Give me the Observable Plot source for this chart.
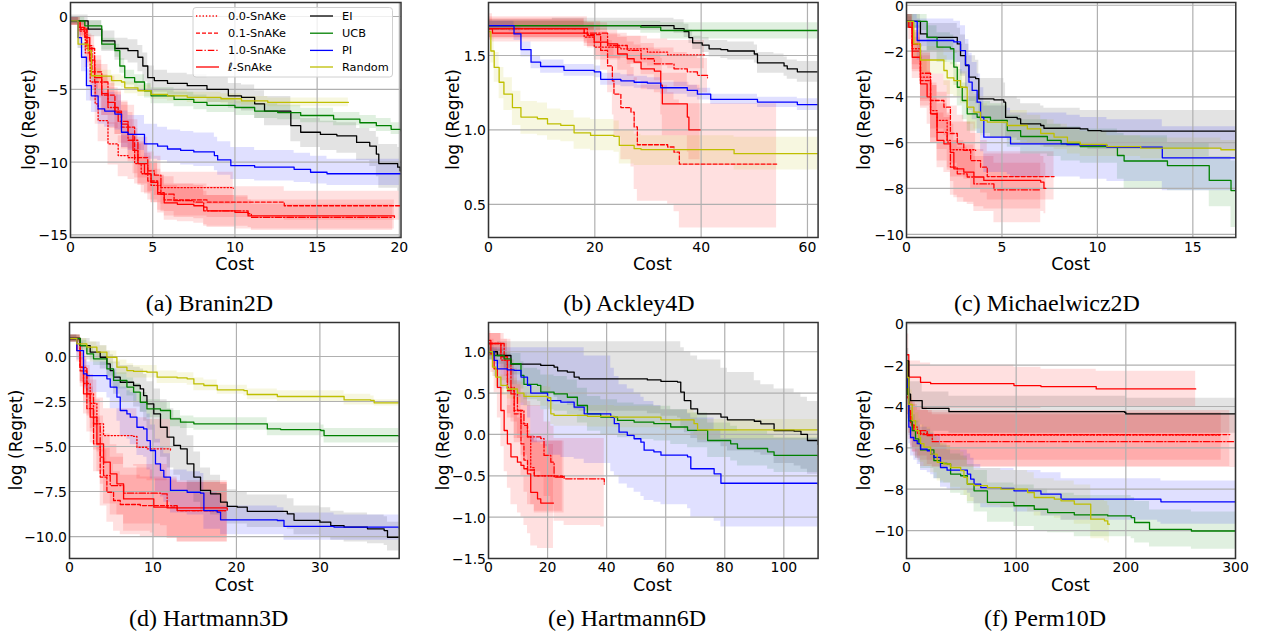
<!DOCTYPE html>
<html>
<head>
<meta charset="utf-8">
<script src="https://cdn.jsdelivr.net/npm/d3@7"></script>
<script src="https://cdn.jsdelivr.net/npm/@observablehq/plot@0.6"></script>
<style>
  html,body{margin:0;padding:0;background:#fff;}
  #root{position:relative;width:1262px;height:636px;overflow:hidden;background:#fff;font-family:"DejaVu Sans",sans-serif;color:#000;}
</style>
</head>
<body>
<div id="root"></div>
<script>
// ---------- data: each row = [cost, mean log regret, lower band, upper band] ----------
// (a) Branin2D
const braninS00 = [[0,-0.3,-0.6,0],[0.5,-1.0,-1.6,-0.5],[0.9,-2.5,-3.5,-1.6],[1.2,-4.5,-5.8,-3.3],[1.5,-6.0,-7.4,-4.7],[1.68,-7.15,-8.6,-5.8],[2.28,-8.75,-10.2,-7.3],[2.9,-9.55,-11.0,-8.2],[3.5,-9.7,-11.2,-8.3],[3.9,-10.1,-11.5,-8.8],[4.3,-10.8,-12.1,-9.6],[4.9,-11.6,-12.8,-10.5],[5.5,-11.75,-12.9,-10.7],[9.9,-11.8,-12.9,-10.8]];
const braninS01 = [[0,-0.3,-0.6,0],[0.6,-0.9,-1.5,-0.4],[1.0,-2.0,-3.0,-1.2],[1.3,-3.8,-5.0,-2.7],[1.9,-5.4,-6.8,-4.1],[2.7,-6.6,-8.1,-5.2],[3.1,-7.6,-9.1,-6.1],[3.9,-9.7,-11.1,-8.3],[4.7,-11.3,-12.6,-10.0],[5.3,-12.1,-13.3,-10.9],[5.7,-12.6,-13.7,-11.5],[8.3,-12.75,-13.8,-11.7],[13,-13.0,-14.0,-12.0],[20.1,-13.0,-14.0,-12.0]];
const braninS10 = [[0,-0.3,-0.6,0],[0.6,-0.8,-1.4,-0.3],[1.0,-2.2,-3.2,-1.3],[1.47,-4.5,-5.8,-3.3],[2.28,-6.25,-7.7,-4.9],[2.9,-7.2,-8.7,-5.8],[3.5,-8.5,-10.0,-7.1],[4.1,-10.1,-11.5,-8.7],[4.7,-10.6,-12.0,-9.3],[5.1,-10.9,-12.3,-9.6],[5.5,-12.2,-13.4,-11.0],[6.3,-12.65,-13.8,-11.5],[7.5,-12.75,-13.9,-11.6],[8.1,-13.35,-14.4,-12.3],[10.8,-13.55,-14.5,-12.6],[11,-13.8,-14.7,-12.9],[19.6,-13.8,-14.7,-12.9]];
const braninSL = [[0,-0.3,-0.6,0],[0.5,-0.75,-1.3,-0.3],[0.87,-1.45,-2.3,-0.8],[1.17,-3.0,-4.2,-2.0],[1.47,-4.2,-5.6,-3.0],[1.9,-5.3,-6.8,-4.0],[2.28,-5.9,-7.4,-4.6],[2.7,-6.5,-8.1,-5.1],[3.1,-7.4,-9.0,-5.9],[3.5,-8.1,-9.8,-6.6],[3.8,-9.2,-10.8,-7.7],[4.1,-10.1,-11.6,-8.6],[4.5,-10.8,-12.2,-9.4],[4.9,-11.4,-12.8,-10.0],[5.3,-12.2,-13.5,-10.9],[5.7,-12.8,-14.0,-11.6],[6.5,-12.9,-14.1,-11.8],[7.5,-13.0,-14.2,-11.9],[8.1,-13.1,-14.3,-12.0],[8.3,-13.35,-14.5,-12.3],[10,-13.45,-14.6,-12.4],[10.8,-13.7,-14.6,-12.6],[19.7,-13.8,-14.6,-12.6]];
const braninEI = [[0,-0.3,-0.6,0.1],[1.07,-0.87,-1.4,-0.3],[1.9,-1.67,-2.4,-1.0],[2.7,-2.2,-3.0,-1.5],[3.5,-2.35,-3.2,-1.6],[4.1,-2.8,-3.8,-2.0],[4.4,-3.4,-4.5,-2.5],[4.7,-4.2,-5.0,-3.4],[5.1,-4.4,-5.2,-3.7],[5.9,-4.6,-5.4,-3.9],[7.1,-4.75,-5.6,-4.0],[8.3,-5.0,-5.9,-4.2],[9.6,-5.45,-6.3,-4.6],[10.4,-5.55,-6.5,-4.7],[11.2,-6.0,-7.0,-5.1],[11.8,-6.5,-7.5,-5.5],[13.4,-7.5,-8.6,-6.6],[14.0,-7.95,-9.0,-7.0],[15.2,-8.1,-9.2,-7.2],[16.2,-8.2,-9.4,-7.3],[17.4,-8.65,-9.9,-7.7],[18.2,-8.9,-10.3,-7.9],[18.6,-9.45,-11.0,-8.3],[18.75,-10.1,-11.8,-8.8],[19.9,-10.35,-12.0,-9.0],[20.05,-10.6,-12.2,-9.3],[20.1,-10.6,-12.2,-9.3]];
const braninUCB = [[0,-0.3,-0.5,0],[0.87,-0.64,-0.9,-0.3],[1.9,-1.9,-2.3,-1.5],[2.7,-2.35,-2.8,-1.9],[3.0,-3.4,-3.9,-2.9],[3.3,-4.2,-4.7,-3.7],[3.9,-4.5,-5.0,-4.0],[4.5,-5.1,-5.6,-4.6],[4.9,-5.45,-6.0,-4.9],[6.3,-5.7,-6.2,-5.2],[7.5,-5.9,-6.4,-5.4],[8.3,-6.1,-6.6,-5.6],[10,-6.25,-6.8,-5.8],[11.2,-6.5,-7.0,-6.0],[12.6,-6.6,-7.1,-6.1],[14,-6.8,-7.3,-6.3],[16,-7.05,-7.5,-6.6],[17.6,-7.3,-7.7,-6.8],[18.6,-7.5,-7.9,-7.0],[19.5,-7.75,-8.1,-7.3],[20.1,-7.85,-8.2,-7.4]];
const braninPI = [[0,-0.3,-0.5,0],[0.46,-1.45,-2.2,-0.8],[0.67,-2.8,-3.8,-1.8],[0.97,-4.75,-5.8,-3.6],[1.27,-5.45,-6.6,-4.2],[1.68,-6.35,-7.4,-5.0],[2.08,-6.5,-7.6,-5.2],[2.7,-6.7,-7.8,-5.4],[3.1,-7.95,-9.0,-6.5],[3.5,-8.1,-9.2,-6.8],[4.5,-8.75,-9.8,-7.4],[5.3,-8.9,-9.9,-7.6],[5.9,-9.1,-10.1,-7.8],[6.7,-9.2,-10.2,-7.9],[7.5,-9.3,-10.3,-8.0],[8.75,-9.55,-10.6,-8.3],[8.95,-9.85,-10.9,-8.6],[9.75,-10.25,-11.2,-9.0],[11.2,-10.35,-11.3,-9.2],[13.6,-10.5,-11.4,-9.4],[14.6,-10.7,-11.5,-9.6],[15.6,-10.8,-11.6,-9.8],[20.1,-10.8,-11.6,-9.8]];
const braninRND = [[0,-0.3,-0.5,-0.1],[0.46,-1.9,-2.2,-1.6],[1.07,-2.35,-2.7,-2.0],[1.27,-4.07,-4.5,-3.6],[1.9,-4.1,-4.5,-3.7],[2.5,-4.4,-4.8,-4.0],[3.1,-4.5,-4.9,-4.1],[3.3,-4.9,-5.3,-4.5],[4.1,-5.1,-5.5,-4.7],[4.9,-5.35,-5.7,-5.0],[5.9,-5.45,-5.8,-5.1],[7.1,-5.55,-5.9,-5.2],[9.15,-5.65,-6.0,-5.3],[10.4,-5.8,-6.1,-5.5],[12,-5.9,-6.2,-5.6],[16.9,-5.9,-6.2,-5.6]];

// (b) Ackley4D
const ackleyS00 = [[0,1.68,1.62,1.74],[18,1.623,1.56,1.69],[19.9,1.556,1.47,1.64],[24.9,1.545,1.45,1.63],[29.9,1.522,1.43,1.61],[33.7,1.504,1.41,1.60],[40.6,1.504,1.40,1.60]];
const ackleyS01 = [[0,1.68,1.61,1.76],[17.4,1.68,1.61,1.76],[18.6,1.64,1.55,1.73],[21.1,1.534,1.40,1.66],[22.4,1.43,1.25,1.60],[23.3,1.33,1.10,1.55],[23.6,1.24,0.95,1.50],[24.9,1.15,0.80,1.45],[26.8,1.12,0.75,1.42],[27.4,1.02,0.60,1.35],[28.0,0.90,0.52,1.30],[33.7,0.885,0.50,1.25],[34.9,0.85,0.45,1.20],[35.9,0.77,0.34,1.175],[54.2,0.77,0.34,1.175]];
const ackleyS10 = [[0,1.68,1.62,1.75],[18,1.65,1.58,1.72],[22.4,1.567,1.48,1.65],[26.1,1.534,1.44,1.63],[28.7,1.478,1.37,1.58],[31.2,1.444,1.33,1.55],[34.9,1.41,1.29,1.52],[37.4,1.39,1.27,1.50],[39.3,1.366,1.25,1.48],[41.2,1.35,1.24,1.47]];
const ackleySL = [[0,1.68,1.60,1.78],[0.75,1.65,1.59,1.73],[17.4,1.65,1.59,1.73],[18.6,1.634,1.56,1.72],[19.9,1.59,1.50,1.68],[22.4,1.578,1.48,1.67],[24.3,1.51,1.40,1.62],[26.1,1.478,1.36,1.59],[27.4,1.455,1.33,1.57],[28.7,1.41,1.27,1.55],[31.2,1.395,1.25,1.54],[32.4,1.30,1.10,1.48],[32.7,1.175,0.96,1.38],[36.8,1.175,0.96,1.38],[37.4,1.086,0.85,1.32],[37.7,1.0,0.80,1.30],[39.8,1.0,0.80,1.30]];
const ackleyEI = [[0,1.70,1.67,1.74],[12,1.70,1.67,1.75],[34.9,1.68,1.65,1.74],[36.8,1.66,1.62,1.71],[37.7,1.62,1.58,1.67],[38.4,1.585,1.54,1.63],[40.2,1.57,1.52,1.62],[41.5,1.545,1.49,1.60],[43.7,1.54,1.48,1.60],[45,1.53,1.47,1.59],[50,1.51,1.45,1.57],[50.6,1.45,1.38,1.52],[53.7,1.45,1.38,1.51],[55.6,1.43,1.36,1.49],[56.2,1.41,1.34,1.47],[58.1,1.39,1.32,1.46],[62,1.39,1.32,1.46]];
const ackleyUCB = [[0,1.70,1.67,1.73],[28.65,1.69,1.65,1.73],[32.4,1.668,1.61,1.72],[62,1.665,1.605,1.725]];
const ackleyPI = [[0,1.70,1.67,1.73],[3.9,1.70,1.66,1.73],[4.8,1.645,1.60,1.69],[6.1,1.54,1.49,1.59],[8.0,1.455,1.41,1.50],[9.8,1.426,1.38,1.47],[14.2,1.40,1.36,1.44],[19.9,1.39,1.35,1.43],[21.1,1.34,1.30,1.38],[24.9,1.33,1.29,1.37],[27.4,1.32,1.28,1.36],[29.9,1.314,1.27,1.35],[32.4,1.283,1.24,1.32],[37.4,1.265,1.22,1.30],[39.3,1.24,1.20,1.28],[41.8,1.205,1.17,1.24],[50.6,1.187,1.15,1.22],[58.1,1.17,1.13,1.21],[62,1.17,1.13,1.21]];
const ackleyRND = [[0,1.66,1.62,1.70],[0.44,1.53,1.45,1.62],[1.07,1.42,1.32,1.52],[2.0,1.32,1.21,1.42],[2.9,1.24,1.13,1.35],[4.5,1.15,1.03,1.26],[6.1,1.086,0.97,1.19],[9.2,1.075,0.96,1.18],[11.1,1.04,0.93,1.14],[13.6,1.03,0.92,1.13],[16.1,0.98,0.87,1.08],[19.2,0.963,0.86,1.07],[23.6,0.956,0.85,1.06],[24.6,0.896,0.77,1.00],[27.4,0.874,0.76,0.97],[28.7,0.867,0.76,0.96],[46.2,0.84,0.73,0.95],[62,0.84,0.73,0.95]];

// (c) Michaelwicz2D
const michS00 = [[0,-0.7,-1.0,-0.4],[0.3,-1.9,-2.8,-1.1],[0.73,-3.14,-4.2,-2.1],[1.26,-4.6,-5.8,-3.4],[1.6,-5.03,-6.3,-3.8],[2.13,-5.9,-7.1,-4.7],[2.3,-6.31,-7.5,-5.1],[3.62,-6.34,-7.6,-5.1]];
const michS01 = [[0,-0.7,-1.0,-0.4],[0.3,-1.7,-2.6,-0.9],[0.73,-3.29,-4.4,-2.2],[1.26,-4.16,-5.4,-3.0],[1.96,-4.45,-5.7,-3.3],[2.3,-5.6,-6.9,-4.4],[2.66,-6.05,-7.3,-4.8],[3.0,-6.34,-7.6,-5.1],[3.36,-6.78,-8.0,-5.6],[3.88,-7.07,-8.2,-5.9],[4.23,-7.48,-8.5,-6.4],[7.73,-7.48,-8.5,-6.4]];
const michS10 = [[0,-0.7,-1.0,-0.4],[0.3,-2.0,-2.9,-1.2],[0.73,-2.97,-4.1,-2.0],[1.26,-4.74,-6.0,-3.5],[1.6,-5.55,-6.8,-4.3],[2.13,-5.98,-7.2,-4.8],[2.3,-7.07,-8.3,-5.9],[2.66,-7.36,-8.6,-6.2],[3.18,-7.5,-8.7,-6.3],[3.53,-7.8,-9.0,-6.6],[4.58,-8.06,-9.5,-6.9],[7.03,-8.06,-9.5,-6.9]];
const michSL = [[0,-0.7,-1.0,-0.4],[0.12,-0.96,-1.5,-0.5],[0.3,-2.27,-3.2,-1.4],[0.73,-3.43,-4.5,-2.4],[1.08,-4.0,-5.2,-2.9],[1.26,-4.74,-6.0,-3.5],[1.6,-5.9,-7.1,-4.7],[1.96,-6.05,-7.3,-4.9],[2.3,-6.42,-7.7,-5.2],[2.48,-7.14,-8.4,-5.9],[3.0,-7.29,-8.6,-6.1],[3.53,-7.5,-8.8,-6.3],[4.05,-7.65,-8.9,-6.5],[7.03,-7.72,-9.0,-6.6],[7.2,-8.0,-9.1,-6.9],[7.3,-8.0,-9.1,-6.9]];
const michEI = [[0,-0.7,-1.0,-0.4],[0.56,-0.7,-1.1,-0.4],[0.73,-1.25,-1.8,-0.7],[1.08,-1.4,-2.0,-0.8],[2.48,-1.4,-2.1,-0.8],[2.66,-1.69,-2.5,-1.0],[2.83,-2.2,-3.1,-1.3],[3.09,-2.63,-3.6,-1.7],[3.27,-3.14,-4.2,-2.2],[3.62,-3.2,-4.3,-2.4],[3.79,-4.09,-5.0,-3.2],[4.58,-4.13,-5.1,-3.2],[5.1,-4.23,-5.2,-3.4],[5.19,-4.9,-5.8,-4.0],[5.8,-4.96,-5.9,-4.1],[5.98,-5.18,-6.1,-4.3],[7.03,-5.25,-6.1,-4.4],[7.2,-5.37,-6.2,-4.5],[9.1,-5.4,-6.2,-4.6],[9.5,-5.47,-6.3,-4.6],[10.2,-5.5,-6.3,-4.6],[17.25,-5.51,-6.35,-4.65]];
const michUCB = [[0,-0.7,-1.0,-0.4],[0.73,-0.7,-1.1,-0.4],[1.08,-1.4,-2.0,-0.9],[1.6,-1.83,-2.5,-1.2],[2.3,-1.9,-2.6,-1.3],[2.48,-2.7,-3.5,-2.0],[2.66,-3.58,-4.4,-2.8],[2.92,-4.16,-5.0,-3.4],[3.18,-4.74,-5.5,-4.0],[3.7,-4.89,-5.6,-4.2],[4.4,-5.03,-5.8,-4.3],[5.28,-5.47,-6.2,-4.8],[5.98,-5.73,-6.5,-5.0],[7.38,-5.9,-6.6,-5.2],[8.1,-6.05,-6.8,-5.3],[9.1,-6.17,-6.9,-5.4],[11.05,-6.56,-7.6,-5.6],[11.4,-6.8,-8.0,-5.7],[13.67,-7.0,-8.1,-6.0],[15.86,-7.65,-8.8,-6.6],[17.0,-8.09,-9.7,-6.8],[17.25,-8.09,-9.7,-6.8]];
const michPI = [[0,-0.7,-1.0,-0.4],[0.56,-1.54,-2.4,-0.6],[2.48,-1.6,-2.5,-0.7],[2.83,-1.98,-3.0,-0.9],[3.09,-2.6,-3.7,-1.5],[3.27,-3.36,-4.6,-2.1],[3.44,-3.72,-5.0,-2.5],[3.7,-4.23,-5.6,-3.0],[3.88,-4.9,-6.4,-3.6],[4.05,-5.76,-7.3,-4.4],[5.28,-5.76,-7.4,-4.5],[5.45,-6.05,-7.5,-4.7],[8.4,-6.08,-7.5,-4.8],[9.1,-6.12,-7.6,-4.9],[10.5,-6.2,-7.7,-5.0],[13.3,-6.2,-7.7,-5.0],[13.4,-6.66,-8.1,-5.3],[17.25,-6.66,-8.1,-5.3]];
const michRND = [[0,-0.7,-1.0,-0.4],[0.38,-1.69,-2.3,-1.1],[0.73,-2.39,-3.0,-1.8],[1.96,-2.85,-3.5,-2.2],[2.13,-3.17,-3.9,-2.5],[2.48,-3.29,-4.0,-2.6],[2.83,-3.58,-4.3,-2.9],[3.18,-4.45,-5.2,-3.7],[3.53,-4.67,-5.4,-3.9],[3.88,-5.03,-5.7,-4.3],[4.23,-5.1,-5.8,-4.4],[5.28,-5.25,-5.9,-4.6],[6.33,-5.4,-6.0,-4.8],[7.03,-5.6,-6.2,-5.0],[7.73,-5.76,-6.3,-5.2],[8.43,-5.98,-6.5,-5.4],[9.1,-6.08,-6.6,-5.5],[10.5,-6.17,-6.6,-5.7],[12.27,-6.24,-6.7,-5.8],[16.47,-6.31,-6.7,-5.9],[17.25,-6.31,-6.7,-5.9]];

// (d) Hartmann3D
const h3S00 = [[0,1.0,0.8,1.2],[1.28,-0.6,-1.4,0.2],[1.68,-1.5,-2.6,-0.5],[2.48,-2.6,-4.0,-1.3],[3.28,-3.74,-5.3,-2.3],[4.08,-4.39,-6.0,-2.9],[7.68,-4.44,-6.1,-2.9],[8.08,-5.04,-6.8,-3.4],[9.28,-5.13,-6.9,-3.5],[12.1,-5.22,-7.0,-3.6]];
const h3S01 = [[0,1.0,0.8,1.2],[1.28,-0.8,-1.7,0.0],[2.08,-2.9,-4.2,-1.7],[2.88,-4.85,-6.4,-3.4],[3.68,-6.7,-8.3,-5.2],[4.48,-7.54,-9.2,-6.0],[5.28,-8.0,-9.7,-6.4],[6.08,-8.22,-9.9,-6.6],[8.48,-8.28,-10.0,-6.7],[11.7,-8.37,-10.1,-6.8],[12.9,-8.56,-10.3,-7.0],[18.9,-8.56,-10.3,-7.0]];
const h3S10 = [[0,1.0,0.8,1.2],[1.28,-0.6,-1.5,0.2],[2.08,-2.07,-3.3,-1.0],[2.88,-3.74,-5.2,-2.4],[3.68,-5.59,-7.1,-4.2],[4.08,-6.61,-8.2,-5.1],[4.88,-7.17,-8.8,-5.6],[6.48,-7.59,-9.3,-6.0],[10.9,-7.63,-9.4,-6.0],[11.7,-8.28,-10.0,-6.7],[12.9,-8.56,-10.3,-7.0],[18.9,-8.5,-10.3,-7.0]];
const h3SL = [[0,1.0,0.8,1.2],[0.88,0.33,-0.3,0.9],[1.28,-0.59,-1.4,0.2],[1.68,-2.07,-3.2,-1.0],[2.48,-3.37,-4.8,-2.0],[3.28,-4.85,-6.4,-3.3],[4.08,-5.87,-7.5,-4.3],[4.88,-6.52,-8.2,-4.9],[5.68,-7.07,-8.8,-5.4],[6.48,-7.91,-9.7,-6.2],[9.68,-7.91,-9.8,-6.3],[10.1,-8.37,-10.0,-6.8],[11.7,-8.41,-10.1,-6.9],[18.9,-8.46,-10.1,-7.0]];
const h3EI = [[0,1.0,0.8,1.2],[1.28,0.61,0.2,1.0],[2.48,0.24,-0.3,0.8],[3.68,-0.04,-0.7,0.6],[4.48,-0.41,-1.2,0.3],[4.88,-0.78,-1.7,0.1],[5.28,-1.15,-2.1,-0.3],[6.08,-1.43,-2.5,-0.5],[7.68,-1.61,-2.8,-0.6],[8.48,-1.8,-3.1,-0.7],[8.88,-2.17,-3.6,-1.0],[9.28,-2.63,-4.1,-1.4],[10.1,-3.19,-4.8,-1.8],[10.9,-3.93,-5.6,-2.4],[11.7,-4.48,-6.2,-2.9],[12.5,-4.94,-6.6,-3.4],[13.3,-5.13,-6.9,-3.6],[14.1,-5.96,-7.6,-4.4],[14.9,-6.7,-8.1,-5.3],[15.7,-7.44,-8.6,-6.2],[16.9,-7.63,-8.8,-6.6],[18.1,-8.09,-9.1,-7.1],[18.9,-8.33,-9.3,-7.4],[20.1,-8.37,-9.3,-7.5],[21.3,-8.6,-9.5,-7.7],[26.1,-8.74,-9.6,-7.9],[26.9,-9.1,-9.9,-8.3],[30.0,-9.2,-10.0,-8.4],[31.3,-9.4,-10.2,-8.6],[32.9,-9.48,-10.3,-8.7],[35.7,-9.57,-10.4,-8.8],[37.7,-9.67,-10.5,-8.9],[38.1,-10.04,-10.8,-9.2],[39.5,-10.04,-10.8,-9.2]];
const h3UCB = [[0,1.0,0.8,1.2],[1.28,0.61,0.3,0.9],[2.08,0.15,-0.2,0.5],[2.88,-0.13,-0.5,0.2],[4.48,-0.69,-1.1,-0.3],[5.28,-1.33,-1.8,-0.9],[6.88,-1.7,-2.2,-1.2],[7.68,-1.98,-2.5,-1.5],[8.48,-2.54,-3.1,-2.0],[9.28,-2.91,-3.4,-2.4],[10.9,-3.0,-3.5,-2.5],[12.1,-3.46,-3.9,-3.0],[13.3,-3.65,-4.0,-3.3],[14.9,-3.74,-4.1,-3.4],[23.3,-3.74,-4.1,-3.4],[23.7,-4.02,-4.4,-3.7],[25.3,-4.06,-4.4,-3.7],[30.1,-4.11,-4.5,-3.8],[30.5,-4.39,-4.8,-4.0],[39.5,-4.44,-4.8,-4.1]];
const h3PI = [[0,1.0,0.8,1.2],[0.88,0.33,-0.2,0.8],[1.68,-0.96,-1.8,-0.2],[2.08,-1.06,-2.0,-0.3],[4.48,-1.24,-2.3,-0.4],[4.88,-1.7,-2.9,-0.7],[5.68,-2.26,-3.6,-1.1],[6.08,-3.0,-4.4,-1.7],[6.88,-3.19,-4.6,-1.9],[7.28,-3.37,-4.9,-2.0],[8.08,-3.93,-5.5,-2.5],[8.88,-4.02,-5.6,-2.6],[9.28,-4.67,-6.3,-3.2],[9.68,-5.22,-6.8,-3.8],[10.3,-5.96,-7.5,-4.6],[10.9,-6.33,-7.8,-5.0],[11.3,-6.7,-8.1,-5.4],[12.1,-7.44,-8.7,-6.3],[14.1,-7.54,-8.8,-6.4],[15.7,-7.59,-8.8,-6.5],[16.1,-8.56,-9.6,-7.5],[17.7,-8.65,-9.6,-7.7],[18.1,-9.07,-9.9,-8.3],[24.9,-9.11,-9.9,-8.4],[25.7,-9.44,-10.2,-8.7],[31.7,-9.48,-10.2,-8.8],[39.5,-9.57,-10.3,-8.9]];
const h3RND = [[0,1.0,0.8,1.2],[0.88,0.7,0.4,1.0],[2.08,0.52,0.2,0.8],[3.28,0.24,-0.1,0.6],[4.48,-0.04,-0.4,0.3],[5.68,-0.59,-1.0,-0.2],[6.88,-0.78,-1.2,-0.4],[7.68,-0.83,-1.2,-0.5],[9.28,-0.87,-1.2,-0.5],[10.5,-1.15,-1.5,-0.8],[12.9,-1.19,-1.5,-0.9],[14.1,-1.24,-1.6,-0.9],[14.9,-1.52,-1.9,-1.2],[16.1,-1.61,-1.9,-1.3],[17.7,-1.85,-2.1,-1.6],[20.9,-1.89,-2.2,-1.6],[21.3,-2.11,-2.4,-1.8],[24.9,-2.22,-2.5,-1.9],[32.5,-2.22,-2.5,-1.9],[32.9,-2.41,-2.7,-2.1],[36.1,-2.44,-2.7,-2.2],[36.5,-2.57,-2.75,-2.4],[39.5,-2.57,-2.75,-2.4]];

// (e) Hartmann6D
const h6S00 = [[0,1.1,0.95,1.22],[4.2,0.9,0.65,1.1],[6.4,0.57,0.25,0.9],[8.7,0.29,-0.05,0.65],[11,0.13,-0.25,0.5],[13.2,-0.03,-0.45,0.4],[14.3,-0.4,-0.85,0.0],[15.5,-0.5,-0.95,-0.08],[22.2,-0.51,-0.95,-0.08],[25.6,-0.5,-0.95,-0.08]];
const h6S01 = [[0,1.1,0.95,1.22],[4.2,0.94,0.7,1.15],[6.4,0.53,0.2,0.85],[8.7,0.25,-0.1,0.6],[11,-0.113,-0.5,0.3],[12,-0.31,-0.7,0.1],[13.2,-0.43,-0.85,0.0],[15.5,-0.5,-0.93,-0.08],[25,-0.52,-0.93,-0.08]];
const h6S10 = [[0,1.1,0.95,1.22],[5.3,0.9,0.6,1.15],[7.6,0.49,0.15,0.8],[9.8,0.29,-0.05,0.6],[12,0.11,-0.3,0.45],[13.2,-0.03,-0.45,0.35],[17.7,-0.05,-0.5,0.3],[18.8,-0.254,-0.75,0.15],[21.1,-0.335,-0.85,0.1],[22.2,-0.516,-1.05,-0.05],[25.6,-0.536,-1.1,-0.05],[38,-0.536,-1.12,-0.05],[39.2,-0.6,-1.12,-0.05]];
const h6SL = [[0,1.137,0.95,1.25],[0.8,0.976,0.75,1.15],[1.9,0.794,0.5,1.05],[3,0.57,0.2,0.9],[4.2,0.29,-0.15,0.7],[5.3,0.048,-0.45,0.5],[6.4,-0.113,-0.65,0.35],[7.6,-0.27,-0.85,0.25],[9.8,-0.335,-0.95,0.2],[11,-0.375,-1.0,0.15],[12,-0.415,-1.1,0.1],[13.2,-0.476,-1.2,0.05],[14.3,-0.7,-1.35,-0.05],[16.6,-0.78,-1.38,-0.1],[17.7,-0.83,-1.38,-0.12],[22,-0.83,-1.38,-0.12]];
const h6EI = [[0,1.0,0.9,1.1],[3,0.955,0.8,1.12],[7.6,0.85,0.6,1.12],[17.7,0.835,0.5,1.12],[22.2,0.815,0.45,1.12],[23.4,0.77,0.4,1.12],[26.7,0.754,0.35,1.12],[29,0.694,0.3,1.12],[30.7,0.673,0.28,1.12],[53.8,0.66,0.25,1.12],[58.4,0.641,0.22,1.12],[64,0.633,0.2,1.12],[65.1,0.512,0.1,1.05],[66.3,0.41,0.02,1.0],[68.5,0.31,-0.05,0.95],[70.8,0.25,-0.1,0.9],[78.7,0.21,-0.15,0.8],[80.9,0.177,-0.2,0.75],[90,0.16,-0.22,0.65],[92.2,0.129,-0.25,0.6],[96.7,0.048,-0.35,0.55],[103.5,0.04,-0.38,0.5],[105.8,0.0,-0.42,0.45],[108,-0.073,-0.48,0.4],[111.6,-0.12,-0.5,0.37]];
const h6UCB = [[0,1.0,0.9,1.05],[1.9,0.955,0.85,1.03],[5.3,0.915,0.8,1.0],[7.6,0.855,0.72,0.98],[11,0.714,0.55,0.88],[12,0.605,0.42,0.8],[16.6,0.593,0.4,0.78],[17.7,0.512,0.3,0.72],[22.2,0.49,0.28,0.7],[26.7,0.45,0.24,0.66],[30.1,0.35,0.14,0.56],[33.5,0.25,0.04,0.46],[38,0.21,0.0,0.42],[43.7,0.17,-0.04,0.38],[49.3,0.15,-0.06,0.36],[56,0.13,-0.08,0.34],[61.7,0.09,-0.12,0.3],[67.4,0.05,-0.16,0.26],[74.2,-0.073,-0.28,0.14],[82,-0.113,-0.32,0.1],[84.3,-0.17,-0.38,0.04],[94.5,-0.21,-0.42,0.0],[96.7,-0.254,-0.46,-0.04],[111.6,-0.262,-0.47,-0.05]];
const h6PI = [[0,1.0,0.9,1.05],[1.9,0.895,0.7,1.05],[3,0.794,0.55,1.05],[6.4,0.78,0.5,1.05],[8.7,0.774,0.45,1.05],[11,0.694,0.35,1.05],[13.2,0.593,0.2,1.05],[14.3,0.5,-0.1,1.05],[18.8,0.5,-0.15,1.05],[20,0.41,-0.25,1.05],[24.5,0.39,-0.28,1.05],[29,0.33,-0.3,1.05],[32.4,0.25,-0.35,0.95],[41.4,0.21,-0.45,0.8],[42.6,0.13,-0.5,0.7],[44.2,0.028,-0.6,0.6],[47,-0.012,-0.65,0.55],[49.3,-0.052,-0.7,0.5],[51.6,-0.093,-0.75,0.45],[52.7,-0.19,-0.8,0.4],[56,-0.21,-0.82,0.35],[58.4,-0.25,-0.85,0.3],[67.4,-0.27,-0.9,0.25],[68.5,-0.415,-1.0,0.2],[76.4,-0.476,-1.05,0.05],[78.7,-0.59,-1.12,-0.05],[111.6,-0.605,-1.15,-0.1]];
const h6RND = [[0,1.0,0.92,1.05],[1.35,0.815,0.7,0.95],[2.5,0.694,0.58,0.82],[4.2,0.593,0.47,0.72],[6.4,0.55,0.43,0.68],[9.8,0.5,0.38,0.63],[12,0.46,0.34,0.58],[20,0.444,0.32,0.57],[21.1,0.25,0.12,0.38],[22.2,0.23,0.1,0.36],[33.5,0.218,0.09,0.35],[42.6,0.21,0.08,0.34],[58.4,0.177,0.05,0.3],[69.6,0.13,0.0,0.26],[70.8,0.056,-0.07,0.18],[111.6,0.056,-0.07,0.18]];

// (f) Perm10D
const permS00 = [[0,-1.8,-2.5,-1.2],[0.6,-3.6,-4.6,-2.7],[2.1,-4.5,-5.6,-3.5],[5.2,-5.0,-6.2,-3.9],[10,-5.3,-6.6,-4.2],[20,-5.38,-6.6,-4.3],[287,-5.38,-6.6,-4.3]];
const permS01 = [[0,-1.8,-2.5,-1.2],[0.6,-3.4,-4.4,-2.5],[2.1,-4.2,-5.3,-3.2],[3.7,-4.68,-5.9,-3.6],[5.2,-4.93,-6.2,-3.8],[8.2,-5.17,-6.5,-4.0],[12.8,-5.36,-6.9,-4.2],[294.8,-5.36,-6.9,-4.2]];
const permS10 = [[0,-1.8,-2.5,-1.2],[0.6,-3.4,-4.4,-2.5],[2.1,-4.2,-5.3,-3.3],[3.7,-4.84,-6.0,-3.7],[6.7,-5.17,-6.4,-4.0],[18.9,-5.41,-6.8,-4.2],[23.5,-5.7,-6.95,-4.4],[300,-5.7,-6.95,-4.4]];
const permSL = [[0,-1.5,-2.5,-0.5],[2.1,-2.58,-4.0,-1.8],[11.3,-2.58,-4.0,-1.8],[12.8,-2.83,-4.1,-1.9],[22,-2.9,-4.1,-2.0],[98,-2.99,-4.1,-2.1],[122.6,-3.04,-4.0,-2.2],[173,-3.15,-4.0,-2.3],[263.7,-3.15,-4.0,-2.3]];
const permEI = [[0,-1.8,-2.5,-1.2],[2.1,-3.4,-4.5,-2.5],[3.7,-3.72,-4.8,-2.8],[12.8,-3.72,-4.9,-2.8],[14.3,-4.09,-5.2,-3.3],[34,-4.09,-5.2,-3.3],[38.7,-4.25,-5.3,-3.5],[198.8,-4.28,-5.3,-3.5],[200,-4.36,-5.3,-3.6],[300,-4.36,-5.3,-3.6]];
const permUCB = [[0,-1.8,-2.2,-1.4],[0.6,-3.4,-3.9,-2.9],[2.1,-4.7,-5.4,-4.0],[5.2,-5.17,-6.0,-4.4],[8.2,-5.57,-6.5,-4.7],[11.3,-5.8,-6.7,-4.9],[12.8,-6.1,-7.0,-5.2],[25,-6.62,-7.5,-5.7],[31,-6.75,-7.7,-5.8],[37,-6.78,-7.7,-5.9],[40.2,-7.27,-8.2,-6.3],[49.4,-7.35,-8.3,-6.4],[55.5,-7.75,-8.7,-6.8],[61.6,-8.08,-9.1,-7.1],[73.8,-8.64,-9.6,-7.7],[98,-8.8,-9.8,-7.8],[116.5,-8.97,-10.0,-8.0],[128.7,-9.13,-10.1,-8.2],[153,-9.24,-10.3,-8.3],[183.5,-9.29,-10.3,-8.3],[204.9,-9.37,-10.4,-8.4],[208,-9.61,-10.6,-8.6],[221.6,-9.94,-10.8,-9.0],[259.8,-10.02,-10.9,-9.1],[300,-10.02,-10.9,-9.1]];
const permPI = [[0,-1.8,-2.2,-1.4],[0.6,-3.07,-3.6,-2.5],[2.1,-5.0,-5.8,-4.2],[3.7,-5.5,-6.4,-4.6],[6.7,-5.65,-6.6,-4.7],[9.8,-5.8,-6.8,-4.8],[12.8,-6.06,-7.1,-5.0],[18.9,-6.14,-7.2,-5.1],[22,-6.3,-7.3,-5.3],[25,-6.46,-7.5,-5.4],[31,-6.95,-7.9,-5.9],[37,-7.08,-8.0,-6.1],[46.3,-7.08,-8.0,-6.1],[55.5,-7.27,-8.2,-6.3],[58.5,-7.51,-8.4,-6.5],[61.6,-7.75,-8.7,-6.8],[67.7,-7.92,-8.9,-7.0],[86,-7.96,-8.9,-7.0],[98,-8.08,-9.1,-7.1],[122.6,-8.24,-9.3,-7.2],[140.9,-8.48,-9.5,-7.5],[229,-8.48,-9.6,-7.5],[232,-8.61,-9.7,-7.6],[300,-8.61,-9.7,-7.6]];
const permRND = [[0,-1.8,-2.2,-1.4],[0.6,-2.6,-3.1,-2.1],[2.1,-3.9,-4.6,-3.2],[5.2,-4.68,-5.5,-3.9],[8.2,-5.17,-6.0,-4.3],[11.3,-5.5,-6.4,-4.6],[12.8,-5.8,-6.7,-4.9],[15.9,-5.97,-6.9,-5.0],[22,-6.3,-7.2,-5.4],[28,-6.7,-7.6,-5.8],[34,-6.78,-7.7,-5.9],[40.2,-6.95,-7.9,-6.0],[49.4,-7.1,-8.0,-6.2],[52.4,-7.43,-8.3,-6.5],[55.5,-7.75,-8.6,-6.9],[61.6,-7.83,-8.7,-7.0],[73.8,-7.92,-8.8,-7.0],[86,-8.0,-8.9,-7.1],[110.4,-8.16,-9.1,-7.2],[116.5,-8.4,-9.3,-7.5],[134.8,-8.48,-9.4,-7.6],[140.9,-8.56,-9.5,-7.6],[153,-8.72,-9.7,-7.8],[168,-9.45,-10.4,-8.5],[180.5,-9.53,-10.5,-8.6],[183.5,-9.69,-10.6,-8.8],[185,-9.69,-10.6,-8.8]];

// ---------- labels ----------
const seriesNames = ["0.0-SnAKe","0.1-SnAKe","1.0-SnAKe","ℓ-SnAke","EI","UCB","PI","Random"];
const captions = ["(a) Branin2D","(b) Ackley4D","(c) Michaelwicz2D","(d) Hartmann3D","(e) Hartmann6D","(f) Perm10D"];
const xLabel = "Cost";
const yLabel = "log (Regret)";
const xTicksA = [0,5,10,15,20], yTicksA = [0,-5,-10,-15];
const xTicksB = [0,20,40,60], yTicksB = [0.5,1.0,1.5];
const xTicksC = [0,5,10,15], yTicksC = [0,-2,-4,-6,-8,-10];
const xTicksD = [0,10,20,30], yTicksD = [0,-2.5,-5,-7.5,-10];
const xTicksE = [0,20,40,60,80,100], yTicksE = [1.0,0.5,0,-0.5,-1.0,-1.5];
const xTicksF = [0,100,200,300], yTicksF = [0,-2,-4,-6,-8,-10];

// ---------- styles ----------
const STY = [
  {color:"#ff0000", dash:"1.3,2"},
  {color:"#ff0000", dash:"4,2"},
  {color:"#ff0000", dash:"6.5,2,1.3,2"},
  {color:"#ff0000", dash:null},
  {color:"#000000", dash:null},
  {color:"#008000", dash:null},
  {color:"#0000ff", dash:null},
  {color:"#bfbf00", dash:null}
];
const f1 = d3.format(".1f"), f0 = d3.format("d");

const panels = [
  {L:69.5, R:400, T:2, B:237, xd:[0,20.1], yd:[-15.18,0.96], xt:xTicksA, yt:yTicksA, yf:f0,
   data:[braninS00,braninS01,braninS10,braninSL,braninEI,braninUCB,braninPI,braninRND], ylx:29.2},
  {L:487.7, R:817.3, T:2, B:237, xd:[0,62], yd:[0.277,1.856], xt:xTicksB, yt:yTicksB, yf:f1,
   data:[ackleyS00,ackleyS01,ackleyS10,ackleySL,ackleyEI,ackleyUCB,ackleyPI,ackleyRND], ylx:453.4},
  {L:906, R:1235.3, T:2, B:237, xd:[0,17.25], yd:[-10.14,0.12], xt:xTicksC, yt:yTicksC, yf:f0,
   data:[michS00,michS01,michS10,michSL,michEI,michUCB,michPI,michRND], ylx:864},
  {L:69.3, R:399, T:322, B:558, xd:[0,39.5], yd:[-11.22,1.89], xt:xTicksD, yt:yTicksD, yf:f1,
   data:[h3S00,h3S01,h3S10,h3SL,h3EI,h3UCB,h3PI,h3RND], ylx:15.8},
  {L:487.7, R:817.3, T:322, B:558, xd:[0,111.6], yd:[-1.5,1.354], xt:xTicksE, yt:yTicksE, yf:f1,
   data:[h6S00,h6S01,h6S10,h6SL,h6EI,h6UCB,h6PI,h6RND], ylx:442.5},
  {L:906, R:1235, T:322, B:558, xd:[0,300], yd:[-11.35,0.06], xt:xTicksF, yt:yTicksF, yf:f0,
   data:[permS00,permS01,permS10,permSL,permEI,permUCB,permPI,permRND], ylx:864}
];
const capX = [209.5, 629, 1047, 208.7, 627, 1045];

const root = document.getElementById("root");
const ml = 60, mr = 12, mt = 8, mb = 30;
panels.forEach((p, pi) => {
  const w = p.R - p.L, h = p.B - p.T;
  const marks = [];
  p.data.forEach((d, i) => marks.push(Plot.areaY(d, {
    x: r => r[0], y1: r => r[2], y2: r => r[3], curve: "step-after",
    fill: STY[i].color, fillOpacity: i === 4 ? 0.11 : 0.12, clip: true
  })));
  marks.push(Plot.gridX({ticks: p.xt, stroke: "#b0b0b0", strokeOpacity: 1, strokeWidth: 1.2}));
  marks.push(Plot.gridY({ticks: p.yt, stroke: "#b0b0b0", strokeOpacity: 1, strokeWidth: 1.2}));
  p.data.forEach((d, i) => marks.push(Plot.line(d, {
    x: r => r[0], y: r => r[1], curve: "step-after",
    stroke: STY[i].color, strokeWidth: 1.3,
    strokeDasharray: STY[i].dash || undefined, clip: true
  })));
  marks.push(Plot.axisX({ticks: p.xt, tickSize: 0, tickPadding: pi < 3 ? 5 : 4, label: null, tickFormat: f0}));
  marks.push(Plot.axisY({ticks: p.yt, tickSize: 0, tickPadding: 2.5, label: null, tickFormat: p.yf, dy: 1}));
  marks.push(Plot.frame({stroke: "#333", strokeWidth: 1.5}));
  const svg = Plot.plot({
    width: ml + w + mr, height: mt + h + mb,
    marginLeft: ml, marginRight: mr, marginTop: mt, marginBottom: mb,
    x: {domain: p.xd}, y: {domain: p.yd},
    style: {fontFamily: "DejaVu Sans", fontSize: "14px", color: "#000", background: "transparent", overflow: "visible"},
    marks
  });
  svg.style.position = "absolute";
  svg.style.left = (p.L - ml) + "px";
  svg.style.top = (p.T - mt) + "px";
  root.appendChild(svg);
});

// ---------- overlay text: axis titles, captions, legend ----------
const ov = d3.select(root).append("svg")
  .attr("width", 1262).attr("height", 636)
  .style("position", "absolute").style("left", "0px").style("top", "0px")
  .style("font-family", "DejaVu Sans");

panels.forEach((p, i) => {
  const cy = (p.T + p.B) / 2;
  ov.append("text").attr("transform", `translate(${p.ylx},${cy}) rotate(-90)`)
    .attr("text-anchor", "middle").attr("dominant-baseline", "central")
    .attr("font-size", 17).text(yLabel);
  ov.append("text").attr("x", (p.L + p.R) / 2).attr("y", p.B + 33)
    .attr("text-anchor", "middle").attr("font-size", 17.5).text(xLabel);
  ov.append("text").attr("x", capX[i]).attr("y", i < 3 ? 311 : 626)
    .attr("text-anchor", "middle").attr("font-family", "Liberation Serif")
    .attr("font-size", 24).text(captions[i]);
});

// legend inside panel (a)
const lg = ov.append("g");
lg.append("rect").attr("x", 193).attr("y", 7.5).attr("width", 199.5).attr("height", 69.5)
  .attr("rx", 3).attr("fill", "#fff").attr("fill-opacity", 0.8).attr("stroke", "#d0d0d0").attr("stroke-width", 1);
const rowsY = [16, 33.2, 50.4, 67];
seriesNames.forEach((name, i) => {
  const col = i < 4 ? 0 : 1, row = i % 4;
  const x0 = col === 0 ? 196 : 310, tx = col === 0 ? 228 : 342;
  const y = rowsY[row];
  lg.append("line").attr("x1", x0).attr("x2", x0 + 23).attr("y1", y).attr("y2", y)
    .attr("stroke", STY[i].color).attr("stroke-width", 1.3)
    .attr("stroke-dasharray", STY[i].dash || null);
  const t = lg.append("text").attr("x", tx).attr("y", y + 4).attr("font-size", 11.3);
  if (name.startsWith("ℓ")) {
    t.append("tspan").attr("font-style", "italic").text("ℓ");
    t.append("tspan").text(name.slice(1));
  } else t.text(name);
});
</script>
</body>
</html>
